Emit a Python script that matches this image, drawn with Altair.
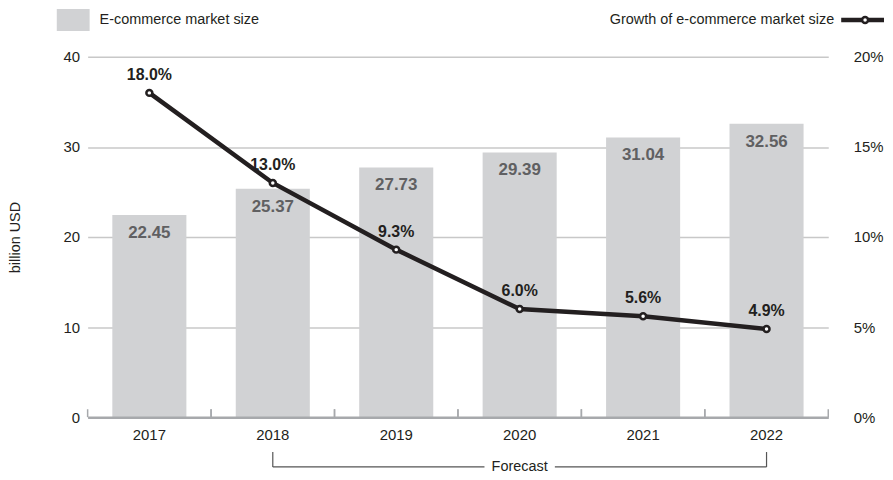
import altair as alt
import pandas as pd

years = ["2017", "2018", "2019", "2020", "2021", "2022"]
market_size = [22.45, 25.37, 27.73, 29.39, 31.04, 32.56]
growth = [18.0, 13.0, 9.3, 6.0, 5.6, 4.9]
forecast_years = ["2018", "2019", "2020", "2021", "2022"]
left_ticks = [0, 10, 20, 30, 40]
right_ticks = [0, 5, 10, 15, 20]

FONT = "Liberation Sans, Arial, sans-serif"
BAR_COLOR = "#d1d2d4"
LINE_COLOR = "#231f20"
TEXT_COLOR = "#231f20"

df = pd.DataFrame({"year": years, "size": market_size, "growth": growth})
df["size_label"] = [f"{v:.2f}" for v in market_size]
df["growth_label"] = [f"{v:.1f}%" for v in growth]
fc = pd.DataFrame({"year": forecast_years})
one = alt.Data(values=[{"k": 1}])

xscale = alt.Scale(paddingInner=0, paddingOuter=0)
x_enc = alt.X(
    "year:N", sort=years, scale=xscale, title=None,
    axis=alt.Axis(domain=True, domainColor="#a7a9ac", domainWidth=2.5, ticks=False,
                  labelFont=FONT, labelFontSize=15, labelColor=TEXT_COLOR,
                  labelPadding=10, labelAngle=0, zindex=1),
)

yl = alt.Scale(domain=[0, 40], nice=False)
yr = alt.Scale(domain=[0, 20], nice=False)

bars = alt.Chart(df).mark_bar(color=BAR_COLOR, width=alt.RelativeBandSize(0.6)).encode(
    x=x_enc,
    y=alt.Y("size:Q", scale=yl, title="billion USD",
            axis=alt.Axis(values=left_ticks, domain=False, ticks=False, grid=True,
                          gridColor="#c8c8c8", gridWidth=1.5,
                          labelFont=FONT, labelFontSize=15, labelColor=TEXT_COLOR,
                          labelPadding=8,
                          titleFont=FONT, titleFontSize=14.5, titleFontWeight="normal",
                          titleColor=TEXT_COLOR, titleAngle=-90, titleX=-72, titleY=181,
                          titleAlign="center", titleBaseline="middle")),
)
bar_labels = alt.Chart(df).mark_text(
    font=FONT, fontSize=17, fontWeight="bold", color="#606062", baseline="middle", dy=18
).encode(x=alt.X("year:N", sort=years), y=alt.Y("size:Q", scale=yl), text="size_label:N")

left = alt.layer(bars, bar_labels)

line = alt.Chart(df).mark_line(color=LINE_COLOR, strokeWidth=4.5).encode(
    x=alt.X("year:N", sort=years),
    y=alt.Y("growth:Q", scale=yr, title=None,
            axis=alt.Axis(orient="right", values=right_ticks, domain=False, ticks=False,
                          grid=False, labelFont=FONT, labelFontSize=15,
                          labelColor=TEXT_COLOR, labelPadding=25, labelAlign="left",
                          labelExpr="datum.value + '%'")),
)
pts = alt.Chart(df).mark_point(
    shape="circle", size=36, filled=True, fill="white", stroke=LINE_COLOR,
    strokeWidth=2.5, opacity=1
).encode(x=alt.X("year:N", sort=years), y=alt.Y("growth:Q", scale=yr))
line_labels = alt.Chart(df).mark_text(
    font=FONT, fontSize=16, fontWeight="bold", color=TEXT_COLOR, baseline="middle", dy=-18
).encode(x=alt.X("year:N", sort=years), y=alt.Y("growth:Q", scale=yr), text="growth_label:N")

right = alt.layer(line, pts, line_labels)

# upward ticks on baseline at category boundaries
tick_l = alt.Chart(df).mark_rule(color="#a7a9ac", strokeWidth=1.5).encode(
    x=alt.X("year:N", sort=years, bandPosition=0), y=alt.value(354), y2=alt.value(362))
tick_r = alt.Chart(df).mark_rule(color="#a7a9ac", strokeWidth=1.5).encode(
    x=alt.X("year:N", sort=years, bandPosition=1), y=alt.value(354), y2=alt.value(362))

# forecast bracket
br_line = alt.Chart(fc).mark_line(color="#555555", strokeWidth=1.2).encode(
    x=alt.X("year:N", sort=years), y=alt.value(412))
br_ends = alt.Chart(fc).transform_filter(
    alt.FieldOneOfPredicate(field="year", oneOf=[forecast_years[0], forecast_years[-1]])
).mark_rule(color="#555555", strokeWidth=1.2).encode(
    x=alt.X("year:N", sort=years), y=alt.value(397), y2=alt.value(412))
br_mask = alt.Chart(fc).transform_filter(alt.datum.year == "2020").mark_point(
    shape="M-1,-0.3L1,-0.3L1,0.3L-1,0.3Z", size=5000, filled=True, fill="white",
    opacity=1, strokeWidth=0
).encode(x=alt.X("year:N", sort=years), y=alt.value(412))
br_text = alt.Chart(fc).transform_filter(alt.datum.year == "2020").mark_text(
    font=FONT, fontSize=14.5, color=TEXT_COLOR, baseline="middle"
).encode(x=alt.X("year:N", sort=years), y=alt.value(412), text=alt.value("Forecast"))

# legends
lg_rect = alt.Chart(one).mark_rect(color=BAR_COLOR).encode(
    x=alt.value(-31), x2=alt.value(2), y=alt.value(-48), y2=alt.value(-26))
lg_text1 = alt.Chart(one).mark_text(
    font=FONT, fontSize=14.5, color=TEXT_COLOR, align="left", baseline="middle"
).encode(x=alt.value(12), y=alt.value(-37), text=alt.value("E-commerce market size"))
lg_text2 = alt.Chart(one).mark_text(
    font=FONT, fontSize=14.5, color=TEXT_COLOR, align="right", baseline="middle"
).encode(x=alt.value(750), y=alt.value(-37), text=alt.value("Growth of e-commerce market size"))
lg_line = alt.Chart(one).mark_rule(color=LINE_COLOR, strokeWidth=4.5).encode(
    x=alt.value(757), x2=alt.value(800), y=alt.value(-37))
lg_pt = alt.Chart(one).mark_point(
    shape="circle", size=36, filled=True, fill="white", stroke=LINE_COLOR,
    strokeWidth=2.5, opacity=1
).encode(x=alt.value(781), y=alt.value(-37))

chart = alt.layer(
    left, right, tick_l, tick_r, br_line, br_ends, br_mask, br_text,
    lg_rect, lg_text1, lg_text2, lg_line, lg_pt
).resolve_scale(y="independent").properties(
    width=744, height=362,
    autosize=alt.AutoSizeParams(type="none"),
    padding={"left": 80, "top": 48, "right": 57, "bottom": 56},
).configure_view(stroke=None)

chart.save("out.html", embed_options={"renderer": "svg", "actions": False})
